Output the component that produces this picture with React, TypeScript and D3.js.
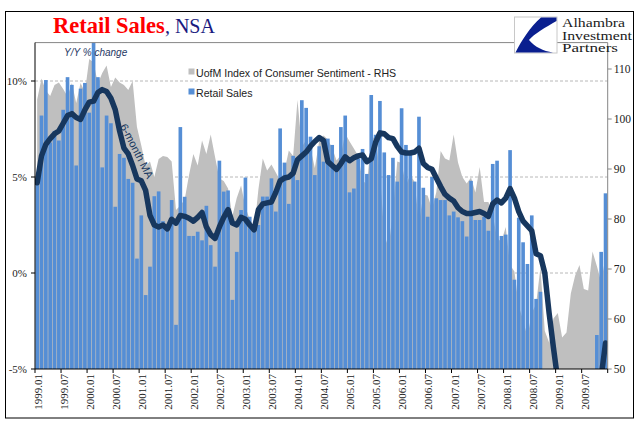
import React from "react";
import * as d3 from "d3";

const months: string[] = [];
for (let y = 1999; y <= 2009; y++) {
  for (let m = 1; m <= 12; m++) months.push(`${y}.${String(m).padStart(2, "0")}`);
}

// Retail Sales, NSA, Y/Y % change (left axis)
const retailSales = [
  4.8, 8.2, 10.05, 6.8, 7.4, 6.9, 8.5, 10.2, 9.8, 5.6, 9.6, 9.9,
  8.35, 12.3, 10.2, 5.5, 8.2, 7.8, 3.45, 6.2, 6.0, 4.9, 4.7, 0.75,
  3.0, -1.15, 0.33, 4.0, 4.25, 2.7, 2.5, 3.8, -2.7, 7.6, 3.97, 1.93,
  1.93, 2.15, 1.7, 3.5, 1.45, 0.33, 5.85, 4.24, 4.3, -1.4, 1.1, 3.28,
  4.97, 2.93, 2.5, 2.5, 3.98, 3.98, 4.93, 3.2, 7.53, 5.75, 3.6, 6.1,
  4.84, 9.0, 8.6, 7.1, 5.1, 6.6, 5.8, 7.0, 6.67, 5.28, 7.6, 8.2,
  4.2, 4.4, 5.97, 6.46, 5.16, 9.27, 7.2, 8.96, 6.28, 5.1, 6.0, 4.76,
  8.58, 6.67, 6.23, 4.76, 8.14, 4.44, 2.93, 5.0, 3.89, 3.8, 3.8, 3.0,
  3.2, 2.9, 2.7, 1.9, 4.8, 2.76, 2.76, 2.93, 2.2, 5.68, 5.85, 1.93,
  2.0, 6.4, -0.35, 2.88, 1.6, 0.47, 3.0, -1.35, -0.98, -6.5, -8.5, -11.5,
  -10.5, -11.0, -9.5, -10.5, -10.0, -9.5, -9.0, -9.5, -5.8, -3.23, 1.1, 4.15,
];

// 6-month moving average (left axis)
const movingAvg = [
  4.7, 6.1, 6.7, 7.0, 7.25, 7.4, 7.8, 8.2, 8.3, 8.1, 8.0, 8.5,
  8.9, 8.95, 9.4, 9.55, 9.45, 9.1, 8.5, 7.4, 6.5, 6.2, 5.6, 4.9,
  4.8, 4.3, 3.0, 2.5, 2.4, 2.5, 2.3, 2.8, 2.6, 3.0, 2.95, 2.85,
  2.7, 2.9, 3.15, 2.4, 2.0, 1.8, 2.4, 2.9, 3.3, 2.6, 2.5, 2.9,
  2.8, 2.5, 2.25, 3.3, 3.6, 3.65, 3.7, 4.2, 4.8, 4.95, 5.0, 5.2,
  5.9, 6.1, 6.3, 6.6, 6.85, 7.05, 6.9, 5.8, 5.6, 5.4, 5.7, 6.05,
  5.85, 6.0, 6.1, 6.15, 5.8, 5.95, 6.8, 7.3, 7.25, 7.05, 7.0, 6.6,
  6.3, 6.25, 6.25, 6.3, 6.5, 5.7, 5.5, 5.4, 4.95, 4.5, 4.1, 3.9,
  3.75, 3.4, 3.2, 3.1, 3.1, 3.15, 3.2, 3.1, 2.95, 3.6, 3.8, 3.65,
  3.9, 4.4, 3.9, 3.2, 2.7, 2.45, 2.2, 1.0, 0.9, 0.0, -2.1, -3.9,
  -5.6, -7.0, -8.0, -9.0, -9.5, -9.8, -9.6, -9.0, -8.0, -6.8, -5.4, -3.65,
];

// UofM Index of Consumer Sentiment (right axis)
const sentiment = [
  103.9, 108.1, 105.7, 104.6, 106.8, 107.3, 106.0, 104.5, 107.2, 103.2, 107.2, 105.4,
  112.0, 111.3, 107.1, 109.2, 110.7, 106.4, 108.3, 107.3, 106.8, 105.8, 107.6, 98.4,
  94.7, 90.6, 91.5, 88.4, 92.0, 92.6, 92.4, 91.5, 81.8, 82.7, 83.9, 88.8,
  93.0, 90.7, 95.7, 93.0, 96.9, 92.4, 88.1, 87.6, 86.1, 80.6, 84.2, 86.7,
  82.4, 79.9, 77.6, 86.0, 92.1, 89.7, 90.9, 89.3, 87.7, 89.6, 93.7, 92.6,
  103.8, 94.4, 95.8, 94.2, 90.2, 95.6, 96.7, 95.9, 94.2, 91.7, 92.8, 97.1,
  95.5, 94.1, 92.6, 87.7, 86.9, 96.0, 96.5, 89.1, 76.9, 74.2, 81.6, 91.5,
  91.2, 86.7, 88.9, 87.4, 79.1, 84.9, 84.7, 82.0, 85.4, 93.6, 92.1, 91.7,
  96.9, 91.3, 88.4, 87.1, 88.3, 85.3, 90.4, 83.4, 83.4, 80.9, 76.1, 75.5,
  78.4, 70.8, 69.5, 62.6, 59.8, 56.4, 61.2, 63.0, 70.3, 57.6, 55.3, 60.1,
  61.2, 56.3, 57.3, 65.1, 68.7, 70.8, 66.0, 65.7, 73.5, 70.6, 67.4, 72.5,
];

const leftTicks = [-5, 0, 5, 10];
const leftTickLabels = ["-5%", "0%", "5%", "10%"];
const gridTicks = [0, 5, 10];
const rightTicks = [50, 60, 70, 80, 90, 100, 110];
const legendLabels = ["UofM Index of Consumer Sentiment - RHS", "Retail Sales"];
const logoLines = ["Alhambra", "Investment", "Partners"];

const SERIF = "'Liberation Serif', 'Times New Roman', serif";
const SANS = "'Liberation Sans', Arial, sans-serif";

export default function App() {
  const L = 35, R = 607.7, T = 42.6, B = 369;
  const x = d3.scaleBand<string>().domain(months).range([L, R]).padding(0);
  const step = x.step();
  const cx = (i: number) => (x(months[i]) as number) + step / 2;
  const yL = d3.scaleLinear().domain([-5, 12]).range([B, T]);
  const yR = d3.scaleLinear().domain([50, 50 + (B - T) / 5]).range([B, T]);

  const areaGen = d3.area<number>().x((_, i) => cx(i)).y0(B).y1((d) => yR(d));
  const lineGen = d3.line<number>().x((_, i) => cx(i)).y((d) => yL(d));

  const tickIdx = d3.range(0, months.length + 1, 6);
  const labelIdx = d3.range(0, months.length, 6);
  const logoWidths = [63, 70, 56];

  return (
    <svg
      width={641}
      height={426}
      style={{ position: "absolute", left: 0, top: 0, display: "block", background: "#fff" }}
    >
      <defs>
        <clipPath id="plotClip">
          <rect x={L} y={T} width={R - L} height={B - T} />
        </clipPath>
      </defs>
      <rect x={0} y={0} width={641} height={426} fill="#fff" />
      <rect x={5.5} y={11.5} width={628} height={406.5} fill="none" stroke="#000" strokeWidth={1} />

      {/* gridlines */}
      {gridTicks.map((t) => (
        <line key={t} x1={L} x2={R} y1={yL(t)} y2={yL(t)} stroke="#a6a6a6" strokeWidth={0.8} strokeDasharray="3,2" />
      ))}

      <g clipPath="url(#plotClip)">
        <path d={areaGen(sentiment) || ""} fill="#bfbfbf" />
        {retailSales.map((v, i) => {
          if (v <= -5) return null;
          const top = yL(Math.min(v, 12.5));
          return (
            <rect
              key={i}
              x={(x(months[i]) as number) + step * 0.08}
              width={step * 0.84}
              y={top}
              height={B - top}
              fill="#558ed5"
            />
          );
        })}
        <path
          d={lineGen(movingAvg) || ""}
          fill="none"
          stroke="#17375e"
          strokeWidth={5.5}
          strokeLinejoin="round"
          strokeLinecap="round"
        />
      </g>

      {/* plot top border */}
      <line x1={L} x2={R} y1={T} y2={T} stroke="#868686" strokeWidth={1} />
      {/* right axis */}
      <line x1={R} x2={R} y1={T} y2={B} stroke="#868686" strokeWidth={1} />
      {rightTicks.map((t) => (
        <g key={t}>
          <line x1={R} x2={R + 4} y1={yR(t)} y2={yR(t)} stroke="#868686" />
          <text x={R + 6} y={yR(t) + 4} fontFamily={SERIF} fontSize={11.5} fill="#222">
            {t}
          </text>
        </g>
      ))}
      {/* left axis */}
      <line x1={L} x2={L} y1={T} y2={B} stroke="#000" strokeWidth={1} />
      {leftTicks.map((t, i) => (
        <g key={t}>
          <line x1={L - 4} x2={L} y1={yL(t)} y2={yL(t)} stroke="#000" />
          <text x={27} y={yL(t) + 4} textAnchor="end" fontFamily={SERIF} fontSize={11} fill="#222">
            {leftTickLabels[i]}
          </text>
        </g>
      ))}
      {/* bottom axis */}
      <line x1={L} x2={R} y1={B} y2={B} stroke="#000" strokeWidth={1} />
      {tickIdx.map((k) => {
        const tx = L + step * k;
        return <line key={k} x1={tx} x2={tx} y1={B} y2={B + 4} stroke="#000" />;
      })}
      {labelIdx.map((k) => {
        const tx = L + step * k + 3;
        return (
          <text
            key={k}
            transform={`translate(${tx},${374}) rotate(-90)`}
            textAnchor="end"
            dominantBaseline="central"
            fontFamily={SERIF}
            fontSize={11}
            fill="#222"
          >
            {months[k]}
          </text>
        );
      })}

      {/* Y/Y label */}
      <text x={64} y={56} fontFamily={SANS} fontStyle="italic" fontSize={10} fill="#1f3864">
        Y/Y % change
      </text>

      {/* legend */}
      <rect x={188.5} y={68.5} width={6} height={6} fill="#bfbfbf" />
      <text x={196} y={76.5} fontFamily={SANS} fontSize={10.6} fill="#222">
        {legendLabels[0]}
      </text>
      <rect x={188.5} y={88.5} width={6} height={6} fill="#558ed5" />
      <text x={196} y={96.5} fontFamily={SANS} fontSize={10.6} fill="#222">
        {legendLabels[1]}
      </text>

      {/* MA annotation */}
      <text
        transform="translate(137,151) rotate(63)"
        textAnchor="middle"
        dominantBaseline="central"
        fontFamily={SANS}
        fontSize={11}
        fill="#17375e"
      >
        6-month MA
      </text>

      {/* title */}
      <text x={53} y={33} fontFamily={SERIF} fontSize={22.5}>
        <tspan fontWeight="bold" fill="#ff0000">Retail Sales</tspan>
        <tspan fill="#1a1a80" fontSize={20}>, NSA</tspan>
      </text>

      {/* logo */}
      <rect x={514.5} y={17} width={42.5} height={36} fill="#fff" stroke="#c8c8c8" strokeWidth={1} />
      <path
        d="M541 17.5 L556.5 17.5 L556.5 21 C546 27 534 34 529 40 C535 47 543 51 553 52.5 L515.5 52.5 C522 40 530 27 541 17.5 Z"
        fill="#0a1f8f"
      />
      {logoLines.map((s, i) => (
        <text
          key={s}
          x={562}
          y={27 + i * 12.5}
          fontFamily={SERIF}
          fontSize={12.5}
          fill="#1a1a1a"
          textLength={logoWidths[i]}
          lengthAdjust="spacingAndGlyphs"
        >
          {s}
        </text>
      ))}
    </svg>
  );
}
